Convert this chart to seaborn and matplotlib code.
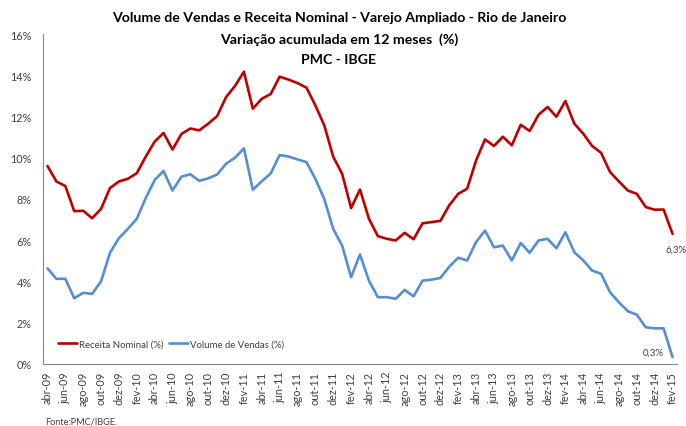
import matplotlib
matplotlib.use("Agg")
import matplotlib.pyplot as plt
import seaborn as sns
import pandas as pd
import numpy as np

months = ["jan", "fev", "mar", "abr", "mai", "jun", "jul", "ago", "set", "out", "nov", "dez"]
periods = [f"{months[(m - 1) % 12]}-{(9 + (m - 1) // 12):02d}" for m in range(4, 4 + 71)]

receita = [9.60, 8.85, 8.63, 7.41, 7.43, 7.07, 7.52, 8.53, 8.85, 8.98,
           9.25, 10.05, 10.78, 11.20, 10.40, 11.15, 11.42, 11.33, 11.65, 12.02,
           12.94, 13.48, 14.17, 12.38, 12.86, 13.09, 13.93, 13.79, 13.62, 13.40,
           12.54, 11.57, 10.05, 9.22, 7.56, 8.46, 7.04, 6.20, 6.07, 5.99,
           6.36, 6.05, 6.82, 6.88, 6.94, 7.70, 8.25, 8.50, 9.87, 10.89,
           10.57, 11.02, 10.60, 11.60, 11.30, 12.09, 12.46, 11.99, 12.75, 11.65,
           11.17, 10.57, 10.24, 9.31, 8.85, 8.41, 8.25, 7.61, 7.48, 7.49,
           6.31]

volume = [4.64, 4.13, 4.13, 3.19, 3.45, 3.40, 4.01, 5.39, 6.10, 6.55,
          7.04, 8.04, 8.92, 9.36, 8.41, 9.08, 9.20, 8.88, 9.00, 9.19,
          9.71, 10.00, 10.45, 8.45, 8.86, 9.24, 10.13, 10.06, 9.92, 9.79,
          8.98, 8.00, 6.55, 5.74, 4.21, 5.31, 4.04, 3.24, 3.24, 3.16,
          3.59, 3.28, 4.04, 4.09, 4.17, 4.72, 5.15, 5.02, 5.91, 6.47,
          5.66, 5.74, 5.02, 5.87, 5.39, 5.99, 6.07, 5.61, 6.39, 5.42,
          5.02, 4.53, 4.37, 3.48, 2.99, 2.56, 2.39, 1.78, 1.73, 1.73,
          0.33]

yticks = [0, 2, 4, 6, 8, 10, 12, 14, 16]

sns.set_style("white")
plt.rcParams["font.family"] = ["Lato", "DejaVu Sans"]

df = pd.DataFrame({"idx": np.arange(len(periods)), "periodo": periods,
                   "Receita Nominal (%)": receita, "Volume de Vendas (%)": volume})

fig = plt.figure(figsize=(6.86, 4.27), dpi=100)
ax = fig.add_axes([43 / 686, 1 - 365 / 427, (677 - 43) / 686, (365 - 35) / 427])

red = "#C00000"
blue = "#558ED5"
sns.lineplot(data=df, x="idx", y="Receita Nominal (%)", ax=ax, color=red, linewidth=1.9,
             label="Receita Nominal (%)")
sns.lineplot(data=df, x="idx", y="Volume de Vendas (%)", ax=ax, color=blue, linewidth=1.9,
             label="Volume de Vendas (%)")

ax.set_xlim(-0.5, len(periods) - 0.5)
ax.set_ylim(0, 16)
ax.set_yticks(yticks)
ax.set_yticklabels([f"{v}%" for v in yticks], fontsize=7.8, color="#404040")
ax.set_xticks(np.arange(0, len(periods), 2))
ax.set_xticklabels(periods[::2], rotation=90, fontsize=7.8, color="#404040")
ax.set_xticks(np.arange(-0.5, len(periods), 2), minor=True)
ax.tick_params(axis="x", which="major", length=0, pad=5)
ax.tick_params(axis="x", which="minor", length=4, color="#868686", width=0.8, direction="out")
ax.tick_params(axis="y", length=4, color="#868686", width=0.8, direction="out", pad=4)
ax.set_xlabel("")
ax.set_ylabel("")
for s in ["top", "right"]:
    ax.spines[s].set_visible(False)
for s in ["left", "bottom"]:
    ax.spines[s].set_color("#868686")
    ax.spines[s].set_linewidth(0.8)

leg = ax.legend(loc="lower left", bbox_to_anchor=(0.018, 0.035), ncol=2, frameon=False,
                fontsize=6.9, handlelength=2.0, handletextpad=0.15, columnspacing=0.6,
                borderaxespad=0)
for t in leg.get_texts():
    t.set_color("#404040")

ax.annotate("6,3%", xy=(70, receita[-1]), xytext=(4, -15), textcoords="offset pixels",
            ha="center", va="center", fontsize=7.0, color="#404040")
ax.annotate("0,3%", xy=(70, volume[-1]), xytext=(-19, 5), textcoords="offset pixels",
            ha="center", va="center", fontsize=7.0, color="#404040")

title_kw = dict(ha="center", va="center", fontsize=10.2, fontweight="bold", color="black")
fig.text(339 / 686, 1 - 18 / 427, "Volume de Vendas e Receita Nominal - Varejo Ampliado - Rio de Janeiro", **title_kw)
fig.text(339 / 686, 1 - 40 / 427, "Variação acumulada em 12 meses  (%)", **title_kw)
fig.text(339 / 686, 1 - 60 / 427, "PMC - IBGE", **title_kw)
fig.text(45 / 686, 1 - 422 / 427, "Fonte:PMC/IBGE.", ha="left", va="center",
         fontsize=6.6, color="#404040")

fig.savefig("out.png", dpi=100)
